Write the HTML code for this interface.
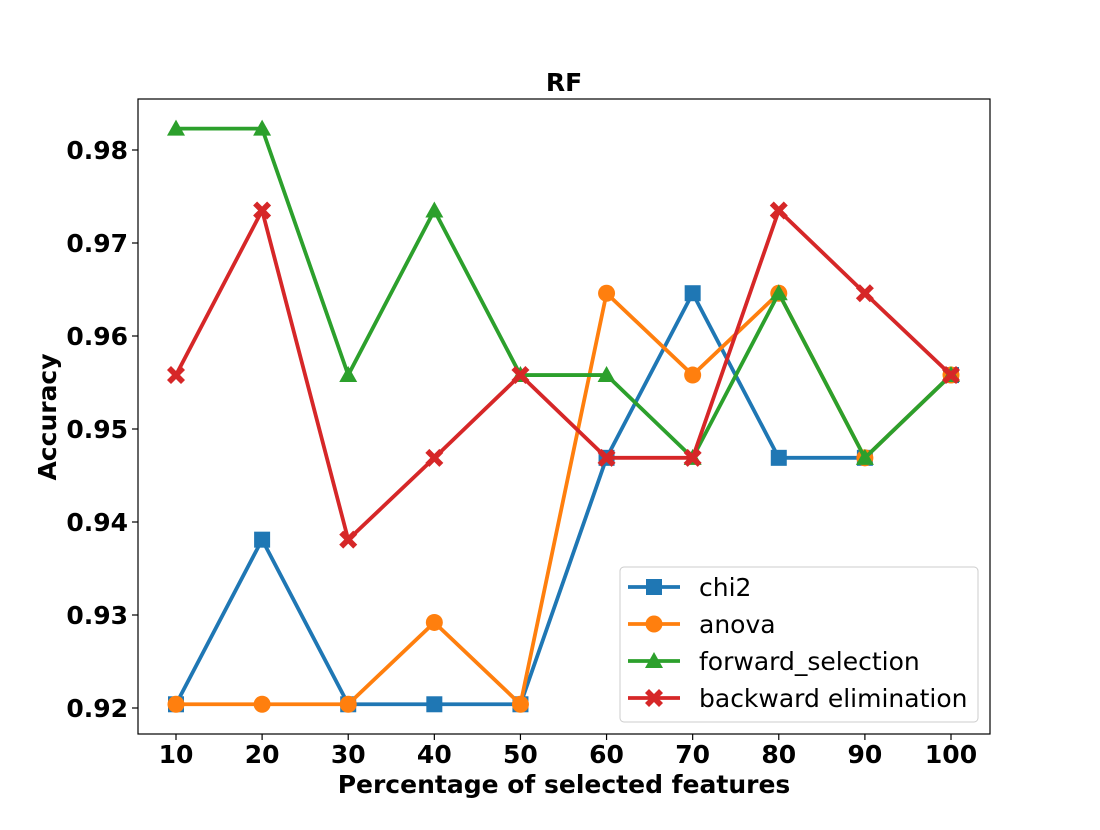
<!DOCTYPE html>
<html><head><meta charset="utf-8"><style>
body{margin:0;background:#fff}
svg{font-family:"DejaVu Sans","Liberation Sans",sans-serif}
</style></head><body>
<svg id="chart" width="1100" height="825">
<rect width="1100" height="825" fill="#fff"/>
<g id="plot"></g>
<rect x="138" y="99" width="852" height="635" fill="none" stroke="#000" stroke-width="1.2"/>
<text x="564" y="91" text-anchor="middle" font-size="25" font-weight="bold">RF</text>
<text x="564" y="793" text-anchor="middle" font-size="25" font-weight="bold">Percentage of selected features</text>
<text transform="translate(56,417) rotate(-90)" text-anchor="middle" font-size="25" font-weight="bold">Accuracy</text>
<g id="legend"></g>
</svg>
<script>
const categories=[10,20,30,40,50,60,70,80,90,100];
const chi2=[0.9204,0.9381,0.9204,0.9204,0.9204,0.9469,0.9646,0.9469,0.9469,0.9558];
const anova=[0.9204,0.9204,0.9204,0.9292,0.9204,0.9646,0.9558,0.9646,0.9469,0.9558];
const forwardSel=[0.9823,0.9823,0.9558,0.9735,0.9558,0.9558,0.9469,0.9646,0.9469,0.9558];
const backwardElim=[0.9558,0.9735,0.9381,0.9469,0.9558,0.9469,0.9469,0.9735,0.9646,0.9558];
const yTicks=[0.92,0.93,0.94,0.95,0.96,0.97,0.98];
const seriesNames=["chi2","anova","forward_selection","backward elimination"];
const NS="http://www.w3.org/2000/svg";
const xs=v=>176+(v-10)*(775/90);
const ys=v=>708-(v-0.92)*9300;
const plot=document.getElementById('plot');
function mk(t,a,p){const e=document.createElementNS(NS,t);for(const k in a)e.setAttribute(k,a[k]);(p||plot).appendChild(e);return e;}
yTicks.forEach(t=>{
 const l=mk('line',{x1:132,x2:138,y1:ys(t),y2:ys(t),stroke:'#000','stroke-width':1.2});
 
 
 const tx=mk('text',{x:128,y:ys(t)+9,'text-anchor':'end','font-size':25,'font-weight':'bold'});
 tx.textContent=t.toFixed(2);
 
 
});
categories.forEach(c=>{
 const l=mk('line',{x1:xs(c),x2:xs(c),y1:734,y2:740,stroke:'#000','stroke-width':1.2});
 
 
 const tx=mk('text',{x:xs(c),y:763,'text-anchor':'middle','font-size':25,'font-weight':'bold'});
 tx.textContent=c;
 
 
});
const colors=['#1f77b4','#ff7f0e','#2ca02c','#d62728'];
const markers=['square','circle','triangle','x'];
function marker(type,x,y,col,p){
 let e;
 if(type==='square')e=mk('rect',{x:x-8,y:y-8,width:16,height:16,fill:col},p);
 else if(type==='circle')e=mk('circle',{cx:x,cy:y,r:8.5,fill:col},p);
 else if(type==='triangle')e=mk('polygon',{points:`${x},${y-9} ${x+9},${y+7} ${x-9},${y+7}`,fill:col},p);
 else e=mk('path',{d:`M${x-9},${y-5} L${x-5},${y-9} L${x},${y-4} L${x+5},${y-9} L${x+9},${y-5} L${x+4},${y} L${x+9},${y+5} L${x+5},${y+9} L${x},${y+4} L${x-5},${y+9} L${x-9},${y+5} L${x-4},${y} Z`,fill:col},p);
 return e;
}
[chi2,anova,forwardSel,backwardElim].forEach((s,i)=>{
 const pl=mk('polyline',{points:s.map((v,j)=>xs(categories[j])+','+ys(v)).join(' '),fill:'none',stroke:colors[i],'stroke-width':3.8,'stroke-linejoin':'round'});
 
 
 s.forEach((v,j)=>{
  const m=marker(markers[i],xs(categories[j]),ys(v),colors[i]);
  
  
 });
});
const lg=document.getElementById('legend');
const box=mk('rect',{x:620,y:567,width:358,height:155,rx:4,fill:'#fff','fill-opacity':0.8,stroke:'#ccc'},lg);


seriesNames.forEach((n,i)=>{
 const y=587+i*37;
 mk('line',{x1:628,x2:680,y1:y,y2:y,stroke:colors[i],'stroke-width':3.8},lg);
 marker(markers[i],654,y,colors[i],lg);
 const t=mk('text',{x:699,y:y+9,'font-size':25},lg);
 t.textContent=n;
 
 
});
</script>
</body></html>
